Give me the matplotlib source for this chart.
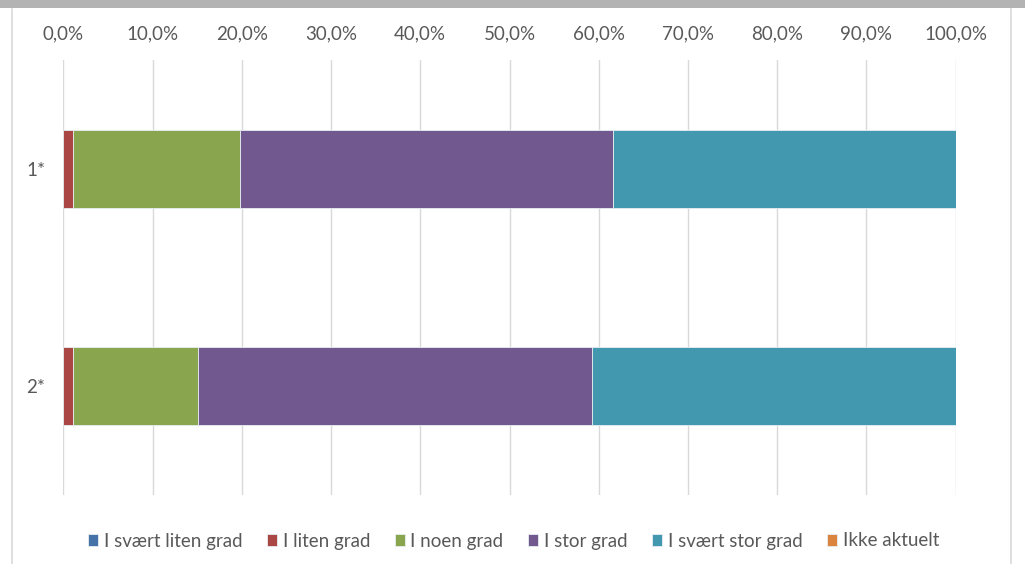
import numpy as np
import matplotlib.pyplot as plt
from matplotlib.patches import Rectangle
from matplotlib.lines import Line2D
from matplotlib.ticker import FuncFormatter

# Survey answers, share of respondents per category
categories = ['1*', '2*']
series = ['I svært liten grad', 'I liten grad', 'I noen grad',
          'I stor grad', 'I svært stor grad', 'Ikke aktuelt']
svaert_liten = [0.0, 0.0]
liten = [1.1, 1.1]
noen = [18.7, 14.0]
stor = [41.8, 44.2]
svaert_stor = [38.4, 40.7]
ikke_aktuelt = [0.0, 0.0]
xticks = [0, 10, 20, 30, 40, 50, 60, 70, 80, 90, 100]

colors = ['#4572A7', '#AA4643', '#89A54E', '#71588F', '#4198AF', '#DB843D']

plt.rcParams['font.family'] = ['Lato', 'DejaVu Sans']

W, H = 1025, 564
fig = plt.figure(figsize=(W / 100, H / 100), dpi=100)

# frame of the chart area: gray band on top, thin borders at the sides
fig.patches.append(Rectangle((0, 1 - 8 / H), 1, 8 / H, transform=fig.transFigure,
                             facecolor='#b3b3b3', edgecolor='none', zorder=0))
for xb in (11.5, 1010.5):
    fig.lines.append(Line2D([xb / W, xb / W], [0, 1 - 9 / H], transform=fig.transFigure,
                            color='#d9d9d9', lw=1.2))

ax = fig.add_axes([63.3 / W, 1 - 495 / H, (955.7 - 63.3) / W, 435 / H])

values = [svaert_liten, liten, noen, stor, svaert_stor, ikke_aktuelt]
y = np.arange(len(categories))
left = np.zeros(len(categories))
for name, vals, c in zip(series, values, colors):
    vals = np.array(vals)
    ax.barh(y, vals, left=left, height=0.36, color=c, label=name,
            edgecolor='#e8eef2', linewidth=0.6, zorder=3)
    left += vals

ax.set_xlim(0, 100)
ax.set_ylim(1.5, -0.5)
ax.set_yticks(y)
ax.set_yticklabels(categories)
ax.set_xticks(xticks)
ax.xaxis.set_major_formatter(FuncFormatter(lambda v, p: f'{v:.1f}%'.replace('.', ',')))
ax.xaxis.tick_top()
ax.grid(axis='x', color='#d9d9d9', lw=1.0, zorder=0)
ax.tick_params(axis='both', length=0, labelsize=13.5, labelcolor='#595959')
ax.tick_params(axis='x', pad=13)
ax.tick_params(axis='y', pad=13)
for s in ax.spines.values():
    s.set_visible(False)

fig.legend(loc='center', bbox_to_anchor=(0.501, 1 - 541 / H), ncol=6, frameon=False,
           fontsize=13.5, labelcolor='#595959', handlelength=0.55, handleheight=0.55,
           handletextpad=0.3, columnspacing=1.3)

fig.savefig('out.png', dpi=100)
